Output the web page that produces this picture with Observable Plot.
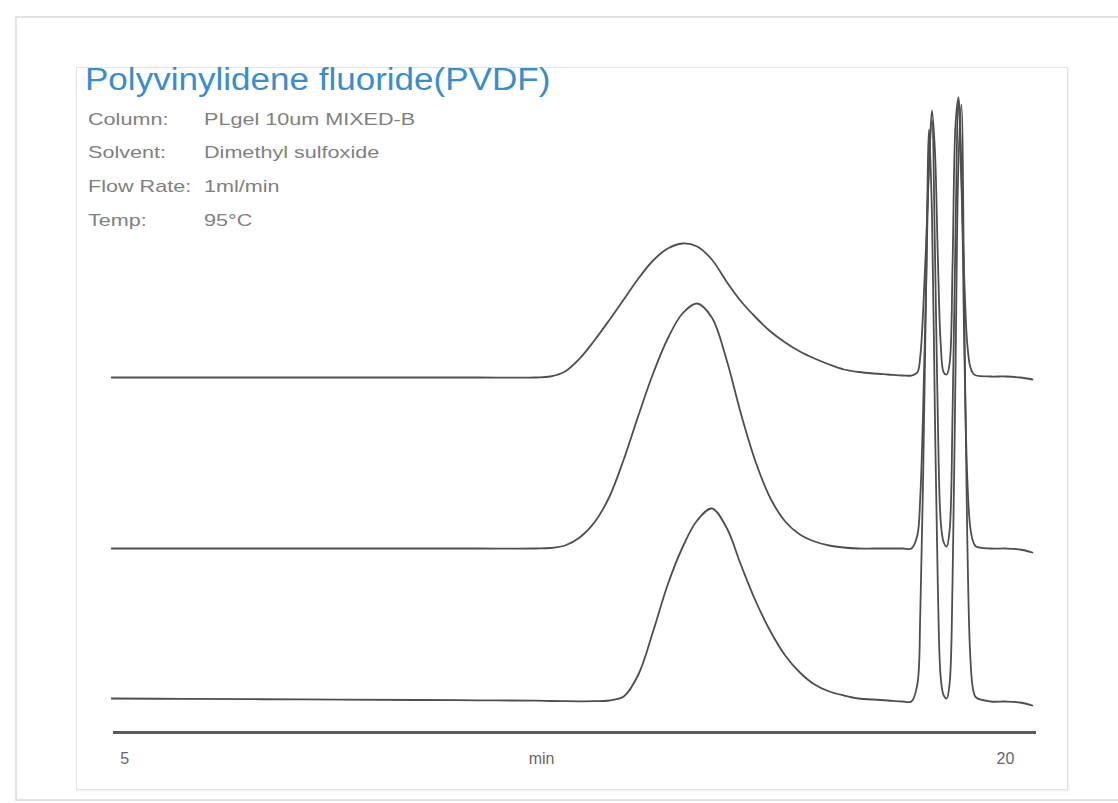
<!DOCTYPE html>
<html>
<head>
<meta charset="utf-8">
<script src="https://cdn.jsdelivr.net/npm/d3@7"></script>
<script src="https://cdn.jsdelivr.net/npm/@observablehq/plot@0.6"></script>
<style>
html,body{margin:0;padding:0;background:#fff;}
#wrap{position:relative;width:1118px;height:803px;overflow:hidden;font-family:"Liberation Sans",Arial,sans-serif;}
#outer{position:absolute;left:15px;top:16px;width:1140px;height:785px;border:2px solid #e3e3e3;box-sizing:border-box;}
#inner{position:absolute;left:76px;top:67px;width:992px;height:723px;border:1px solid #e2e2e2;box-sizing:border-box;box-shadow:1px 1px 2px rgba(0,0,0,0.07);}
#chart{position:absolute;left:0;top:0;}
.t{position:absolute;white-space:nowrap;transform-origin:0 0;}
#title{left:85px;top:64px;font-size:31px;line-height:31px;color:#3a8dc9;transform:scaleX(1.13);}
.info{font-size:17px;line-height:17px;color:#808080;transform:scaleX(1.27);}
</style>
</head>
<body>
<div id="wrap">
  <div id="outer"></div>
  <div id="inner"></div>
  <div id="chart"></div>
  <div id="title" class="t">Polyvinylidene fluoride(PVDF)</div>
  <div id="info"></div>
</div>
<script>
// Retention time grid (min)
const times = [4.78, 6, 8, 10, 11, 12,
  12.25, 12.5, 12.75, 13.0, 13.25, 13.5, 13.75, 14.0, 14.25, 14.5, 14.75, 15.0, 15.25, 15.5, 15.75,
  16.0, 16.25, 16.5, 16.75, 17.0, 17.25, 17.5, 17.75, 18.0, 18.25,
  18.4,
  18.5, 18.55, 18.6, 18.65, 18.7, 18.75, 18.8, 18.85, 18.9, 18.95, 19.0,
  19.05, 19.1, 19.15, 19.2, 19.25, 19.3, 19.35, 19.4, 19.45, 19.5,
  19.75, 20.0, 20.25, 20.46];

// Detector response (arbitrary units) for the three stacked chromatograms
const trace1 = [0, 0, 0, 0, 0, 0,
  1, 6, 19, 37, 57, 78, 99, 117, 129, 134, 131, 118, 96, 76, 60,
  46, 35, 26, 19, 13, 8, 5.5, 4, 3, 2,
  2,
  5, 21, 67, 134, 214, 267, 227, 120, 32, 5, 3,
  14, 112, 252, 280, 196, 98, 34, 11, 4, 2,
  1, 1, 0, -2];

const trace2 = [0, 0, 0, 0, 0, 0,
  0.5, 3, 11, 26, 51, 89, 133, 175, 210, 235, 245, 231, 189, 134, 86,
  50, 27, 14, 7, 3, 1, 0, 0, 0, 0,
  0,
  13, 51, 141, 265, 385, 428, 300, 128, 26, 6, 2,
  18, 134, 314, 448, 381, 202, 72, 22, 7, 2,
  0, 0, -1, -4];

const trace3 = [3, 2.6, 2.1, 1.5, 1.2, 0.8,
  0.5, 0.3, 0.2, 0.3, 1, 5, 27, 70, 117, 154, 181, 193, 174, 136, 100,
  70, 46, 29, 17, 10, 6, 3, 2, 1, 0,
  0,
  17, 86, 229, 412, 572, 486, 286, 114, 23, 6, 3,
  18, 119, 328, 537, 597, 388, 167, 48, 12, 4,
  0, 0, -1, -4];

// Vertical offsets of the stacked traces
const offsets = [355, 184, 31];

// Axis labels
const tickValues = [5, 12.1, 20];
const tickLabels = ["5", "min", "20"];

// Method information
const infoLabels = ["Column:", "Solvent:", "Flow Rate:", "Temp:"];
const infoValues = ["PLgel 10um MIXED-B", "Dimethyl sulfoxide", "1ml/min", "95°C"];

const series = [trace1, trace2, trace3];
const rows = series.flatMap((s, k) => s.map((v, i) => ({trace: k, t: times[i], y: offsets[k] + v})));

const chart = Plot.plot({
  width: 1118,
  height: 803,
  marginLeft: 113,
  marginRight: 82,
  marginTop: 92,
  marginBottom: 71,
  x: {domain: [4.81, 20.53]},
  y: {domain: [0, 640], axis: null},
  style: {background: "transparent", fontFamily: "'Liberation Sans', Arial, sans-serif", overflow: "visible"},
  marks: [
    Plot.ruleY([0], {stroke: "#5a5a5a", strokeWidth: 3}),
    Plot.line(rows, {x: "t", y: "y", z: "trace", stroke: "#4e4e4e", strokeWidth: 1.8, curve: "catmull-rom"}),
    Plot.axisX({
      ticks: tickValues,
      tickFormat: d => tickLabels[tickValues.indexOf(d)],
      tickSize: 0,
      tickPadding: 20,
      fontSize: 16,
      fill: "#666",
      label: null
    })
  ]
});
document.getElementById("chart").appendChild(chart);

// info block
const info = document.getElementById("info");
const tops = [111, 144, 178, 212];
infoLabels.forEach((lab, i) => {
  const a = document.createElement("div");
  a.className = "t info";
  a.style.left = "88px";
  a.style.top = tops[i] + "px";
  a.textContent = lab;
  info.appendChild(a);
  const b = document.createElement("div");
  b.className = "t info";
  b.style.left = "204px";
  b.style.top = tops[i] + "px";
  b.textContent = infoValues[i];
  info.appendChild(b);
});
</script>
</body>
</html>
